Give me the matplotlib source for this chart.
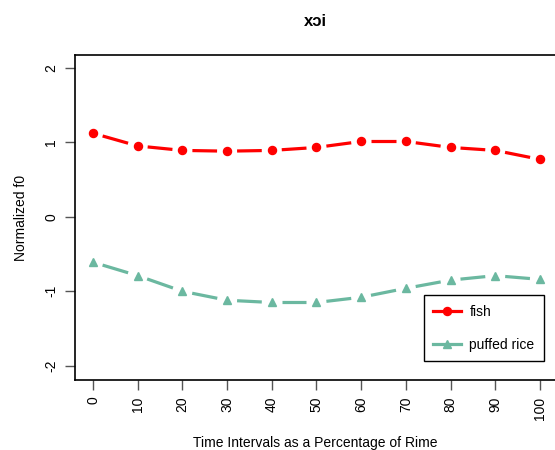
import numpy as np
import matplotlib.pyplot as plt

plt.rcParams['font.family'] = ['Liberation Sans', 'DejaVu Sans']

time_pct = [0, 10, 20, 30, 40, 50, 60, 70, 80, 90, 100]
fish = [1.12, 0.95, 0.89, 0.88, 0.89, 0.93, 1.01, 1.01, 0.93, 0.89, 0.77]
puffed_rice = [-0.61, -0.79, -1.00, -1.12, -1.15, -1.15, -1.08, -0.96, -0.85, -0.79, -0.84]
y_ticks = [-2, -1, 0, 1, 2]

X_LIM = (-4.03, 103.6)
Y_LIM = (-2.19, 2.17)
AX_W, AX_H = 481, 325  # axes size in pixels


def gapped_line(ax, x, y, color, marker, ms, label, gap=10):
    # R's type="b": line segments stop short of each point
    sx = AX_W / (X_LIM[1] - X_LIM[0])
    sy = AX_H / (Y_LIM[1] - Y_LIM[0])
    px = np.array(x) * sx
    py = np.array(y) * sy
    for i in range(len(px) - 1):
        dx, dy = px[i + 1] - px[i], py[i + 1] - py[i]
        n = np.hypot(dx, dy)
        if n <= 2 * gap:
            continue
        ux, uy = dx / n * gap, dy / n * gap
        ax.plot([(px[i] + ux) / sx, (px[i + 1] - ux) / sx],
                [(py[i] + uy) / sy, (py[i + 1] - uy) / sy],
                color=color, lw=2.3, solid_capstyle='butt')
    ax.plot(x, y, linestyle='none', marker=marker, color=color, ms=ms)
    ax.plot([], [], color=color, lw=2.3, marker=marker, ms=ms, label=label)


fig = plt.figure(figsize=(5.55, 4.5), dpi=100)
ax = fig.add_axes([75 / 555, 70 / 450, AX_W / 555, AX_H / 450])
ax.set_xlim(*X_LIM)
ax.set_ylim(*Y_LIM)

gapped_line(ax, time_pct, fish, '#ff0000', 'o', 5.8, 'fish')
gapped_line(ax, time_pct, puffed_rice, '#6bb8a0', '^', 5.2, 'puffed rice')
ax.set_xlim(*X_LIM)
ax.set_ylim(*Y_LIM)

ax.set_xticks(time_pct)
ax.set_xticklabels([str(t) for t in time_pct], rotation=90, fontsize=10)
ax.set_yticks(y_ticks)
ax.set_yticklabels([str(t) for t in y_ticks], rotation=90, fontsize=10, va='center')
ax.tick_params(length=7, width=1, color='#555555', pad=5)
for s in ax.spines.values():
    s.set_linewidth(1.2)

ax.set_title('xɔi', fontweight='bold', fontsize=12, pad=21)
ax.set_xlabel('Time Intervals as a Percentage of Rime', fontsize=10, labelpad=12)
ax.set_ylabel('Normalized f0', fontsize=10, labelpad=12)

leg = ax.legend(loc='lower right', bbox_to_anchor=(0.99, 0.036), fontsize=10,
                fancybox=False, edgecolor='black', framealpha=1,
                handlelength=2.0, borderpad=0.7, labelspacing=1.35,
                handletextpad=0.6)
leg.get_frame().set_linewidth(1)

fig.savefig('out.png', dpi=100)
